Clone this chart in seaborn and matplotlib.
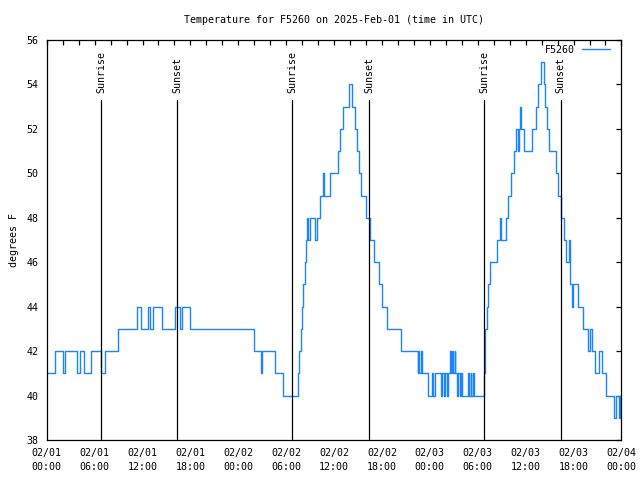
import pandas as pd
import matplotlib
matplotlib.use("Agg")
import matplotlib.pyplot as plt
import matplotlib.dates as mdates
import matplotlib.transforms as mtransforms
import seaborn as sns

# ── Palette & font ───────────────────────────────────────────
LINE = "#1a85ff"
INK = "#000000"
FONT = "DejaVu Sans Mono"
FS = 7.2

# ── Data (hours after 2025-02-01 00:00 UTC, temperature held until next point)
hours = [
    0.0, 1.0, 2.0, 2.3, 3.8, 4.2, 4.7, 5.5, 6.85, 7.3, 8.9, 11.3, 11.8, 12.7,
    12.9, 13.3, 14.5, 16.1, 16.7, 17.0, 18.0, 26.0, 26.8, 27.0, 28.6, 29.6,
    31.5, 31.65, 31.8, 31.95, 32.15, 32.35, 32.5, 32.6, 32.75, 32.95,
    33.6, 33.8, 34.2, 34.6, 34.75, 35.5, 36.5, 36.75, 37.1, 37.9,
    38.3, 38.6, 38.9, 39.1, 39.4, 40.0, 40.5, 41.0, 41.6, 41.95, 42.66,
    44.33, 46.5, 46.55, 46.65, 46.9, 47.0, 47.75, 48.3, 48.4, 48.65,
    49.45, 49.55, 49.8, 49.9, 50.15, 50.25, 50.5, 50.6, 50.8, 50.9, 51.1,
    51.2, 51.45, 51.55, 51.8, 51.9, 52.05, 52.8, 52.9, 53.1, 53.2, 53.4,
    53.5, 54.75, 54.85, 54.95, 55.1, 55.3, 55.55, 56.45, 56.75,
    56.9, 57.6, 57.8, 58.15, 58.55, 58.8, 59.0, 59.15, 59.3,
    59.45, 59.75, 60.85, 61.3, 61.6, 61.95, 62.3, 62.4, 62.7, 62.95, 63.85,
    64.1, 64.4, 64.85, 65.05, 65.45, 65.6, 65.75, 65.9, 66.55, 67.2, 67.75,
    68.1, 68.25, 68.7, 69.15, 69.55, 70.05, 71.05, 71.3, 71.7, 71.8, 72.0,
]
temps = [
    41, 42, 41, 42, 41, 42, 41, 42, 41, 42, 43, 44, 43, 44,
    43, 44, 43, 44, 43, 44, 43, 42, 41, 42, 41, 40,
    41, 42, 43, 44, 45, 46, 47, 48, 47, 48,
    47, 48, 49, 50, 49, 50, 51, 52, 53, 54,
    53, 52, 51, 50, 49, 48, 47, 46, 45, 44, 43,
    42, 41, 42, 41, 42, 41, 40, 41, 40, 41,
    40, 41, 40, 41, 40, 41, 42, 41, 42, 41, 42,
    41, 40, 41, 40, 41, 40, 41, 40, 41, 40, 41,
    40, 41, 42, 43, 44, 45, 46, 47, 48,
    47, 48, 49, 50, 51, 52, 51, 52, 53,
    52, 51, 52, 53, 54, 55, 54, 53, 52, 51, 50,
    49, 48, 47, 46, 47, 45, 44, 45, 44, 43, 42,
    43, 42, 41, 42, 41, 40, 39, 40, 39, 40, 40,
]
sunrise_h = [6.8, 30.75, 54.8]
sunset_h = [16.35, 40.4, 64.4]
y_ticks = list(range(38, 57, 2))

start = pd.Timestamp("2025-02-01 00:00")
df = pd.DataFrame({
    "time": start + pd.to_timedelta(hours, unit="h"),
    "temp": temps,
})

# ── Style ────────────────────────────────────────────────────
sns.set_style("white")
plt.rcParams.update({
    "font.family": [FONT, "DejaVu Sans"],
    "font.size": FS,
    "axes.edgecolor": INK,
    "axes.linewidth": 0.9,
    "text.color": INK,
    "axes.labelcolor": INK,
    "xtick.color": INK,
    "ytick.color": INK,
})

fig = plt.figure(figsize=(6.4, 4.8), dpi=100)
ax = fig.add_axes([0.073, 0.0833, 0.898, 0.8334])

sns.lineplot(data=df, x="time", y="temp", drawstyle="steps-post",
             color=LINE, lw=1.0, estimator=None, label="F5260", ax=ax)

# sunrise / sunset markers
trans = mtransforms.blended_transform_factory(ax.transData, ax.transAxes)
for hs, word in [(sunrise_h, "Sunrise"), (sunset_h, "Sunset")]:
    for h in hs:
        t = start + pd.Timedelta(hours=h)
        ax.axvline(t, ymin=0, ymax=0.85, color=INK, lw=0.9)
        ax.text(t, 0.868, word, transform=trans, rotation=90,
                ha="center", va="bottom", fontsize=FS)

# ── Axes ─────────────────────────────────────────────────────
ax.set_xlim(start, start + pd.Timedelta(hours=72))
ax.set_ylim(38, 56)
ax.set_yticks(y_ticks)
ax.xaxis.set_major_locator(mdates.HourLocator(byhour=[0, 6, 12, 18]))
ax.xaxis.set_minor_locator(mdates.HourLocator(byhour=range(0, 24, 2)))
ax.xaxis.set_major_formatter(mdates.DateFormatter("%m/%d\n%H:%M"))
ax.tick_params(which="both", direction="in", top=True, right=True,
               length=3.8, width=0.9, labelsize=FS)
ax.tick_params(axis="x", pad=6)
ax.tick_params(axis="y", pad=6)
ax.set_xlabel("")
ax.set_ylabel("degrees F", fontsize=FS, labelpad=5)
ax.set_title("Temperature for F5260 on 2025-Feb-01 (time in UTC)",
             fontsize=FS, pad=12.5)

ax.legend(loc="upper right", bbox_to_anchor=(1 - 11.7 / 575, 1 - 5 / 400),
          frameon=False, markerfirst=False, handlelength=2.8,
          handletextpad=0.7, borderpad=0, borderaxespad=0, fontsize=FS)

fig.canvas.draw()
for lbl in ax.get_xticklabels():
    lbl.set_linespacing(1.45)

plt.savefig("out.png", dpi=100, facecolor="white")
plt.close()
